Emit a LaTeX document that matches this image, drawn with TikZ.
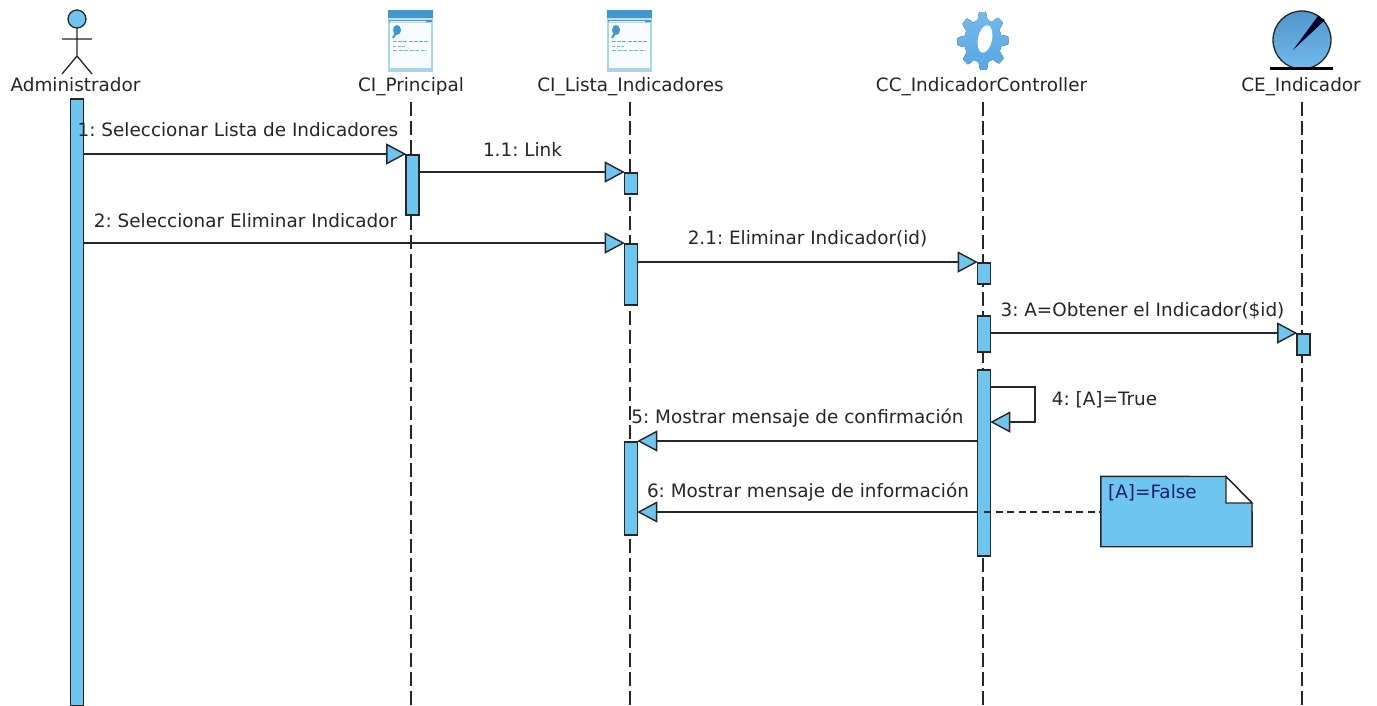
\documentclass[tikz,border=0pt]{standalone}
\usepackage{fontspec}
\setmainfont{DejaVu Sans}
\usetikzlibrary{arrows.meta}
\definecolor{barblue}{HTML}{6EC5EF}
\definecolor{ink}{HTML}{262626}
\definecolor{gearA}{HTML}{72BBEE}
\definecolor{gearB}{HTML}{58A6E2}
\definecolor{winA}{HTML}{3F97D0}
\definecolor{winB}{HTML}{A9D3E6}
\tikzset{
  lbl/.style={text=ink,font=\fontsize{18.4pt}{20pt}\selectfont,inner sep=0pt,text height=14pt,text depth=4pt},
  actbar/.style={draw=ink,fill=barblue,line width=1.6pt,minimum width=13pt,inner sep=0pt},
  lifeline/.style={draw=ink,line width=1.2pt,dash pattern=on 14pt off 5pt},
  msg/.style={draw=ink,line width=1.4pt,shorten >=-1pt,-{Triangle[length=20pt,width=21pt,fill=barblue]}},
  notebody/.style={draw=ink,fill=barblue,line width=1.4pt,line join=miter},
  figure/.style={draw=ink,line width=1.3pt},
}
\newcommand{\winicon}[1]{%
  \begin{scope}[shift={(#1,10)}]
    \fill[winB] (0,0) rectangle (45,62);
    \fill[white!92!winB] (2,13) rectangle (43,58);
    \fill[winA] (0,0) rectangle (45,8);
    \fill[winB!70] (1,8) rectangle (44,10);
    \fill[winA] (1,10) rectangle (44,12);
    \fill[white!92!winB] (2,10.5) rectangle (38,12);
    \fill[winA] (9,20) ellipse (4pt and 5pt);
    \draw[winA,line width=2pt] (8,23) -- (5,28);
    \draw[winA!80,line width=1pt,dash pattern=on 4pt off 1.2pt] (5,31) -- (41,31);
    \draw[winA!70,line width=.8pt,dash pattern=on 3pt off 1.5pt] (5,36) -- (18,36);
    \draw[winA!70,line width=.8pt,dash pattern=on 4pt off 1.5pt] (5,40) -- (39,40);
  \end{scope}}
\begin{document}
\frenchspacing
\begin{tikzpicture}[x=1pt,y=-1pt]
\useasboundingbox (0,0) rectangle (1377,705);
\fill[white] (0,0) rectangle (1377,705);
% header labels
\node[lbl] (hA) at (75.5,86.5) {Administrador};
\node[lbl] (hP) at (411,86.5) {CI\_Principal};
\node[lbl] (hL) at (630.5,86.5) {CI\_Lista\_Indicadores};
\node[lbl] (hC) at (981.5,86.5) {CC\_IndicadorController};
\node[lbl] (hE) at (1301,86.5) {CE\_Indicador};
% lifelines
\coordinate (eP) at (411,705);
\coordinate (eL) at (630,705);
\coordinate (eC) at (983,705);
\coordinate (eE) at (1302,705);
\draw[lifeline] (eP) -- ([yshift=-2.5pt]hP.south -| eP);
\draw[lifeline] (eL) -- ([yshift=-2.5pt]hL.south -| eL);
\draw[lifeline] (eC) -- ([yshift=-2.5pt]hC.south -| eC);
\draw[lifeline] (eE) -- ([yshift=-2.5pt]hE.south -| eE);
% actor
\draw[figure,fill=barblue] (77,19) circle (9pt);
\draw[figure] (77,28) -- (77,56) (62,39) -- (92,39) (62,74) -- (77,56) -- (92,74);
% window icons
\winicon{388}
\winicon{607}
% gear
\fill[top color=gearA,bottom color=gearB] plot[domain=0:360,samples=240] ({983+25.5*(0.87+0.13*min(1,max(-1,2*cos(8*\x+10))))*cos(\x)},{41+29*(0.87+0.13*min(1,max(-1,2*cos(8*\x+10))))*sin(\x)}) -- cycle;
\fill[white,rotate around={-12:(985,39)}] (985,39) ellipse (7pt and 14pt);
% entity
\draw[figure,top color=gearB!90!black,bottom color=gearA] (1302,40) circle (29pt);
\fill[black!85!blue] (1293,50) -- (1318,16) -- (1325,20) -- cycle;
\draw[black,line width=2.5pt] (1270,68.5) -- (1333,68.5);
% activation bars
\node[actbar,minimum height=607pt,anchor=north] (bA) at (77,98) {};
\node[actbar,minimum height=60pt,anchor=north] (p1) at (412.5,154) {};
\node[actbar,minimum height=21pt,anchor=north] (l1) at (631,172) {};
\node[actbar,minimum height=61pt,anchor=north] (l2) at (631,243) {};
\node[actbar,minimum height=93pt,anchor=north] (l3) at (631,441) {};
\node[actbar,minimum height=21pt,anchor=north] (c1) at (984,262) {};
\node[actbar,minimum height=36pt,anchor=north] (c2) at (984,315) {};
\node[actbar,minimum height=186pt,anchor=north] (c3) at (984,369) {};
\node[actbar,minimum height=21pt,anchor=north] (e1) at (1303.5,333) {};
% messages
\draw[msg] (bA.east |- p1.north west) -- (p1.north west);
\draw[msg] (p1.east |- l1.north west) -- (l1.north west);
\draw[msg] (bA.east |- l2.north west) -- (l2.north west);
\draw[msg] (l2.east |- c1.north west) -- (c1.north west);
\draw[msg] (c2.east |- e1.north west) -- (e1.north west);
\coordinate (s1) at (1035,387);
\coordinate (s2) at (1035,422);
\draw[msg] (c3.east |- s1) -- (s1) -- (s2) -- (c3.east |- s2);
\draw[msg] (c3.west |- l3.north east) -- (l3.north east);
\coordinate (m6) at (638,512);
\draw[msg] (c3.west |- m6) -- (l3.east |- m6);
% note
\node[minimum width=151pt,minimum height=70pt,inner sep=0pt] (note) at (1176.5,511.5) {};
\draw[notebody] (note.north west) -- (1226,476.5) -- (1252,503) -- (note.south east) -- (note.south west) -- cycle;
\draw[notebody,fill=white] (1226,476.5) -- (1252,503) -- (1226,503) -- cycle;
\draw[draw=ink,line width=1.2pt,dash pattern=on 7pt off 4.5pt] (c3.center |- m6) -- (note.west |- m6);
\node[lbl,text=ink!70!blue,anchor=west] (nt) at (1108,493) {[A]=False};
% message labels
\node[lbl] (t1) at (238,131.5) {1: Seleccionar Lista de Indicadores};
\node[lbl] (t11) at (522.5,151.5) {1.1: Link};
\node[lbl] (t2) at (245.5,222) {2: Seleccionar Eliminar Indicador};
\node[lbl] (t21) at (807.5,239.5) {2.1: Eliminar Indicador(id)};
\node[lbl] (t3) at (1142.5,311.5) {3: A=Obtener el Indicador(\$id)};
\node[lbl] (t4) at (1104.5,400.5) {4: [A]=True};
\node[lbl] (t5) at (797.5,418.5) {5: Mostrar mensaje de confirmación};
\node[lbl] (t6) at (808,492.5) {6: Mostrar mensaje de información};
\end{tikzpicture}
\end{document}
